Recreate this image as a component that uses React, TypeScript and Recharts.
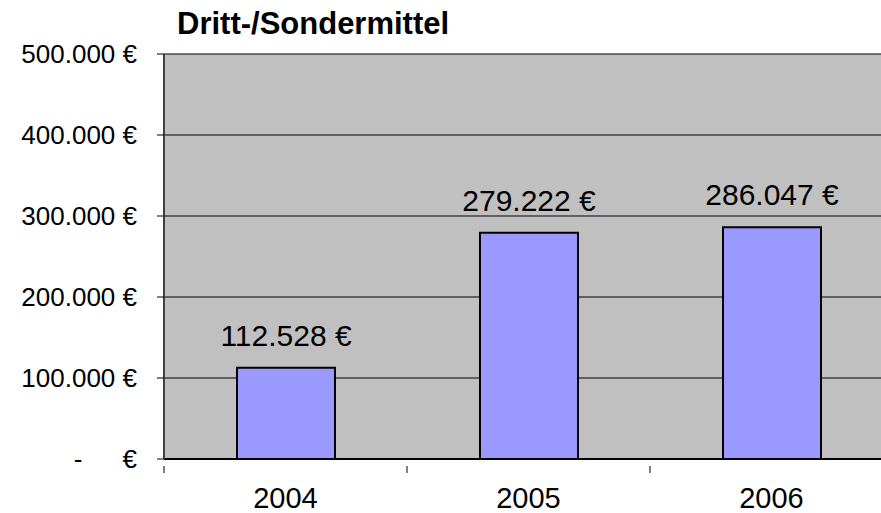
import { BarChart, Bar, XAxis, YAxis, CartesianGrid, LabelList } from "recharts";

const YEARS = ["2004", "2005", "2006"];
const AMOUNTS = [112528, 279222, 286047];
const Y_TICKS = [0, 100000, 200000, 300000, 400000, 500000];

const data = YEARS.map((year, i) => ({ year, amount: AMOUNTS[i] }));

const FONT = "'Liberation Sans', Arial, sans-serif";
const PLOT_W = 729;
const CAT_W = PLOT_W / YEARS.length;

const fmtEuro = (v: number) =>
  `${Math.round(v).toLocaleString("de-DE").replace(/,/g, ".")} €`;

function YTick({ x, y, payload }: any) {
  const v = payload.value as number;
  if (v === 0) {
    return (
      <g fontFamily={FONT} fontSize={26} fill="#000">
        <text x={78} y={y} dy={9} textAnchor="middle">-</text>
        <text x={x} y={y} dy={9} textAnchor="end">€</text>
      </g>
    );
  }
  return (
    <text x={x} y={y} dy={9} textAnchor="end" fontFamily={FONT} fontSize={26} fill="#000">
      {fmtEuro(v)}
    </text>
  );
}

function XTick({ x, y, payload }: any) {
  const left = x - CAT_W / 2;
  return (
    <g>
      <line x1={left} y1={y - 1} x2={left} y2={y + 6} stroke="#000" strokeWidth={1} />
      <text x={x} y={y + 41} textAnchor="middle" fontFamily={FONT} fontSize={29} fill="#000">
        {payload.value}
      </text>
    </g>
  );
}

function ValueLabel({ x, y, width, value }: any) {
  return (
    <text x={x + width / 2} y={y - 22} textAnchor="middle" fontFamily={FONT} fontSize={30} fill="#000">
      {fmtEuro(value)}
    </text>
  );
}

export default function App() {
  return (
    <div style={{ position: "absolute", left: 0, top: 0, width: 881, height: 513, overflow: "hidden", background: "#fff" }}>
      <div style={{ position: "absolute", left: 177, top: 5, fontFamily: FONT, fontWeight: "bold", fontSize: 31, lineHeight: "38px", color: "#000" }}>
        Dritt-/Sondermittel
      </div>
      <BarChart width={900} height={513} data={data} margin={{ top: 54, right: 7, bottom: 0, left: 0 }} barSize={98}>
        <CartesianGrid vertical={false} fill="#C0C0C0" fillOpacity={1} stroke="#000" strokeOpacity={1} strokeWidth={1} />
        <XAxis
          dataKey="year"
          height={54}
          tick={<XTick />}
          tickLine={false}
          axisLine={{ stroke: "#000", strokeWidth: 2 }}
          interval={0}
        />
        <YAxis
          width={164}
          domain={[0, 500000]}
          ticks={Y_TICKS}
          tick={<YTick />}
          tickSize={7}
          tickMargin={20}
          tickLine={{ stroke: "#000" }}
          axisLine={{ stroke: "#404040", strokeWidth: 2 }}
        />
        <Bar dataKey="amount" fill="#9999FF" stroke="#000" strokeWidth={2} isAnimationActive={false}>
          <LabelList dataKey="amount" content={<ValueLabel />} />
        </Bar>
      </BarChart>
    </div>
  );
}
